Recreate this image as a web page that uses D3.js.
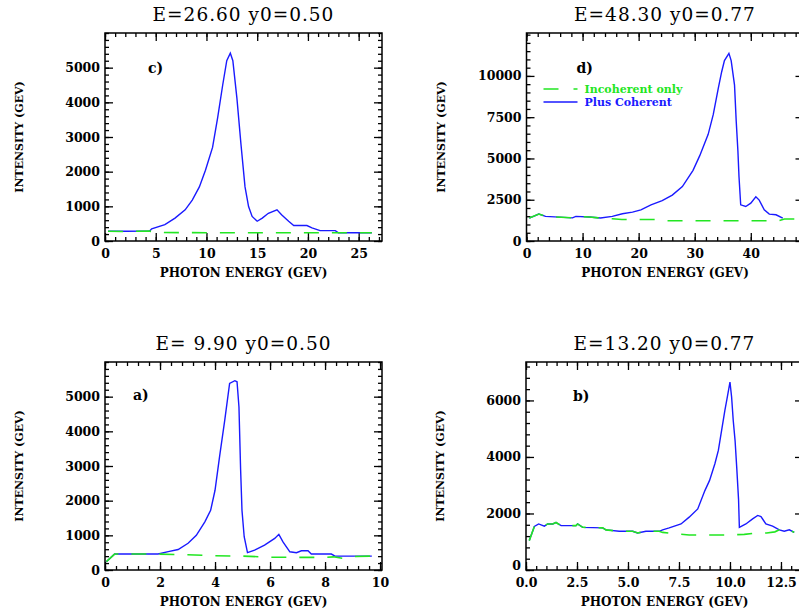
<!DOCTYPE html>
<html>
<head>
<meta charset="utf-8">
<script src="https://cdn.jsdelivr.net/npm/d3@7"></script>
<style>
  body { margin: 0; background: #fff; }
  svg { display: block; }
  text { font-family: "DejaVu Serif", serif; fill: #000; }
</style>
</head>
<body>
<div id="chart"></div>
<script>
// values, [photon energy, intensity]
const cCoherent = [[0.3,280],[2,280],[4.4,290],[4.6,350],[5.9,470],[6.9,660],[7.9,900],[8.6,1180],[9.3,1560],[9.9,2040],[10.6,2700],[11.1,3550],[11.6,4500],[12.0,5200],[12.35,5420],[12.6,5200],[13.0,4120],[13.4,2790],[13.8,1560],[14.15,995],[14.5,710],[15.0,570],[15.5,660],[16.1,800],[16.95,900],[17.4,760],[18.1,570],[18.6,445],[19.9,445],[20.4,380],[21.2,300],[22.7,300],[23.0,236],[26.3,236]];
const cIncoherent = [[0.3,280],[2,275],[4.4,285],[5.0,245],[10,240],[15,238],[20,236],[26.3,236]];

const dCoherent = [[0.5,1390],[2.2,1630],[3.4,1490],[8.2,1400],[8.8,1490],[11.2,1450],[13.2,1390],[15.3,1490],[17.1,1650],[18.9,1750],[20.4,1890],[22.2,2190],[24.2,2440],[26.0,2780],[27.8,3300],[29.7,4280],[30.9,5170],[32.4,6460],[33.3,7650],[34.2,9240],[34.8,10240],[35.3,10930],[36.1,11370],[36.5,10930],[37.1,9440],[37.4,7260],[37.7,5470],[37.9,3880],[38.2,2190],[39.1,2090],[40.0,2290],[40.9,2680],[41.5,2480],[42.4,1890],[43.3,1630],[44.5,1590],[45.7,1390]];
const dIncoherent = [[0.5,1390],[2.2,1630],[3.4,1490],[8.2,1400],[8.8,1490],[11.2,1450],[13.2,1390],[15.3,1350],[17,1300],[23,1300],[24,1230],[45,1230],[46,1330],[49.4,1330]];

const aCoherent = [[0.05,240],[0.35,460],[1.93,460],[2.3,530],[2.66,590],[3.02,770],[3.32,1000],[3.63,1390],[3.84,1720],[4.0,2300],[4.17,3300],[4.35,4300],[4.53,5380],[4.72,5460],[4.8,5430],[4.87,4700],[4.93,2900],[4.98,1720],[5.06,960],[5.18,500],[5.44,575],[5.8,720],[6.17,910],[6.32,1030],[6.47,810],[6.72,525],[6.96,500],[7.14,555],[7.38,555],[7.5,460],[8.23,460],[8.36,400],[9.7,400]];
const aIncoherent = [[0.05,240],[0.35,460],[1.93,460],[3.0,440],[4,410],[5,400],[6,370],[7,365],[8,365],[8.3,380],[8.7,330],[9.0,390],[9.7,400]];

const bCoherent = [[0.16,1040],[0.41,1540],[0.62,1630],[0.9,1550],[1.06,1630],[1.31,1630],[1.47,1680],[1.72,1570],[2.45,1570],[2.53,1630],[2.78,1510],[3.76,1490],[3.92,1420],[4.57,1370],[5.23,1370],[5.47,1310],[5.88,1370],[6.53,1370],[6.7,1420],[7.02,1490],[7.6,1630],[8.0,1870],[8.42,2160],[8.77,2810],[9.0,3170],[9.26,3760],[9.43,4230],[9.59,4940],[9.75,5650],[9.84,6000],[10.0,6650],[10.08,6120],[10.16,5290],[10.25,4580],[10.33,3640],[10.42,2500],[10.46,1510],[10.78,1630],[11.11,1810],[11.36,1930],[11.52,1890],[11.76,1630],[12.09,1550],[12.42,1420],[12.66,1370],[12.91,1420],[13.15,1330]];
const bIncoherent = [[0.16,1040],[0.41,1540],[0.62,1630],[0.9,1550],[1.06,1630],[1.31,1630],[1.47,1680],[1.72,1570],[2.45,1570],[2.53,1630],[2.78,1510],[3.76,1490],[3.92,1420],[4.57,1370],[5.23,1370],[5.47,1310],[5.88,1370],[6.53,1370],[6.7,1330],[7.3,1280],[8,1240],[10,1240],[10.7,1260],[11.2,1300],[11.8,1310],[12.2,1350],[12.42,1420],[12.66,1370],[12.91,1420],[13.15,1330]];

const panelTitles = ['E=26.60 y0=0.50', 'E=48.30 y0=0.77', 'E= 9.90 y0=0.50', 'E=13.20 y0=0.77'];
const panelLetters = ['c)', 'd)', 'a)', 'b)'];

const cXTicks = [0, 5, 10, 15, 20, 25];
const dXTicks = [0, 10, 20, 30, 40];
const aXTicks = [0, 2, 4, 6, 8, 10];
const bXTicks = [0, 2.5, 5, 7.5, 10, 12.5];
const cYTicks = [0, 1000, 2000, 3000, 4000, 5000];
const dYTicks = [0, 2500, 5000, 7500, 10000];
const aYTicks = [0, 1000, 2000, 3000, 4000, 5000];
const bYTicks = [0, 2000, 4000, 6000];

const legendLabels = ['Incoherent only', 'Plus Coherent'];

const blue = '#1a1aff';
const green = '#22e622';

const panels = [
  { left: 105, top: 33, xMax: 27.3, yMax: 6000, xTicks: cXTicks, yTicks: cYTicks, xMinor: 1, yMinor: 200,
    coh: cCoherent, inc: cIncoherent, fmt: d3.format('d'), letter: [43, 40], zeroLift: 0 },
  { left: 526.5, top: 33, xMax: 49.4, yMax: 12600, xTicks: dXTicks, yTicks: dYTicks, xMinor: 2, yMinor: 500,
    coh: dCoherent, inc: dIncoherent, fmt: d3.format('d'), letter: [50, 40], zeroLift: 0, legend: true },
  { left: 105, top: 362, xMax: 10.07, yMax: 6000, xTicks: aXTicks, yTicks: aYTicks, xMinor: 0.4, yMinor: 200,
    coh: aCoherent, inc: aIncoherent, fmt: d3.format('d'), letter: [28, 38], zeroLift: 0 },
  { left: 526, top: 362, xMax: 13.58, yMax: 7360, xTicks: bXTicks, yTicks: bYTicks, xMinor: 0.5, yMinor: 400,
    coh: bCoherent, inc: bIncoherent, fmt: d3.format('.1f'), letter: [47, 39], zeroLift: 5 }
];

const W = 277, H = 208;

const svg = d3.select('#chart').append('svg')
  .attr('width', 799)
  .attr('height', 613);

panels.forEach((p, i) => {
  const g = svg.append('g').attr('transform', `translate(${p.left},${p.top})`);
  const x = d3.scaleLinear().domain([0, p.xMax]).range([0, W]);
  const y = d3.scaleLinear().domain([0, p.yMax]).range([H, 0]);

  const xMinorTicks = d3.range(0, p.xMax + 1e-9, p.xMinor);
  const yMinorTicks = d3.range(0, p.yMax + 1e-9, p.yMinor);

  // minor ticks on all four sides
  [[d3.axisBottom(x), `translate(0,${H})`], [d3.axisTop(x), 'translate(0,0)']].forEach(([ax, tr]) => {
    g.append('g').attr('class', 'minor').attr('transform', tr)
      .call(ax.tickValues(xMinorTicks).tickSize(-4).tickFormat(''));
  });
  [[d3.axisLeft(y), 'translate(0,0)'], [d3.axisRight(y), `translate(${W},0)`]].forEach(([ax, tr]) => {
    g.append('g').attr('class', 'minor').attr('transform', tr)
      .call(ax.tickValues(yMinorTicks).tickSize(-4).tickFormat(''));
  });

  // major ticks, labels left and bottom
  g.append('g').attr('class', 'major').attr('transform', `translate(0,${H})`)
    .call(d3.axisBottom(x).tickValues(p.xTicks).tickSize(-8).tickPadding(8).tickFormat(p.fmt));
  g.append('g').attr('class', 'major')
    .call(d3.axisTop(x).tickValues(p.xTicks).tickSize(-8).tickFormat(''));
  const yAx = g.append('g').attr('class', 'major')
    .call(d3.axisLeft(y).tickValues(p.yTicks).tickSize(-8).tickPadding(5).tickFormat(d3.format('d')));
  g.append('g').attr('class', 'major').attr('transform', `translate(${W},0)`)
    .call(d3.axisRight(y).tickValues(p.yTicks).tickSize(-8).tickFormat(''));

  g.selectAll('.domain').remove();
  g.selectAll('.tick line').attr('stroke', '#000').attr('stroke-width', 1.3);
  g.selectAll('.major .tick text')
    .style('font-size', '12.5px').style('font-weight', 'bold').attr('fill', '#000');
  yAx.selectAll('.tick text').filter(d => d === 0).attr('y', -p.zeroLift);

  g.append('rect')
    .attr('width', W).attr('height', H)
    .attr('fill', 'none').attr('stroke', '#000').attr('stroke-width', 1.5);

  const line = d3.line().x(d => x(d[0])).y(d => y(d[1]));

  // blue first, green dashes drawn over it
  g.append('path').datum(p.coh)
    .attr('d', line).attr('fill', 'none')
    .attr('stroke', blue).attr('stroke-width', 1.4);
  g.append('path').datum(p.inc)
    .attr('d', line).attr('fill', 'none')
    .attr('stroke', green).attr('stroke-width', 1.6)
    .attr('stroke-dasharray', '15,13');

  // title, letter, axis labels
  g.append('text')
    .attr('x', W / 2).attr('y', -12)
    .attr('text-anchor', 'middle')
    .style('font-size', '18.5px').style('white-space', 'pre')
    .style('letter-spacing', '1px')
    .text(panelTitles[i]);

  g.append('text')
    .attr('x', p.letter[0]).attr('y', p.letter[1])
    .style('font-size', '14px').style('font-weight', 'bold')
    .text(panelLetters[i]);

  g.append('text')
    .attr('x', W / 2).attr('y', H + 36)
    .attr('text-anchor', 'middle')
    .style('font-size', '12px').style('font-weight', 'bold')
    .text('PHOTON ENERGY (GEV)');

  g.append('text')
    .attr('transform', `translate(-82,${H / 2}) rotate(-90)`)
    .attr('text-anchor', 'middle')
    .style('font-size', '11px').style('font-weight', 'bold')
    .text('INTENSITY (GEV)');

  if (p.legend) {
    const lg = g.append('g').attr('transform', 'translate(17,56)');
    lg.append('line').attr('x1', 0).attr('x2', 34).attr('y1', 0).attr('y2', 0)
      .attr('stroke', green).attr('stroke-width', 1.6).attr('stroke-dasharray', '15,15');
    lg.append('line').attr('x1', 0).attr('x2', 34).attr('y1', 13).attr('y2', 13)
      .attr('stroke', blue).attr('stroke-width', 1.4);
    lg.append('text').attr('x', 41).attr('y', 4)
      .style('fill', green)
      .style('font-size', '11px').style('font-weight', 'bold')
      .text(legendLabels[0]);
    lg.append('text').attr('x', 41).attr('y', 17)
      .style('fill', blue)
      .style('font-size', '11px').style('font-weight', 'bold')
      .text(legendLabels[1]);
  }
});
</script>
</body>
</html>
